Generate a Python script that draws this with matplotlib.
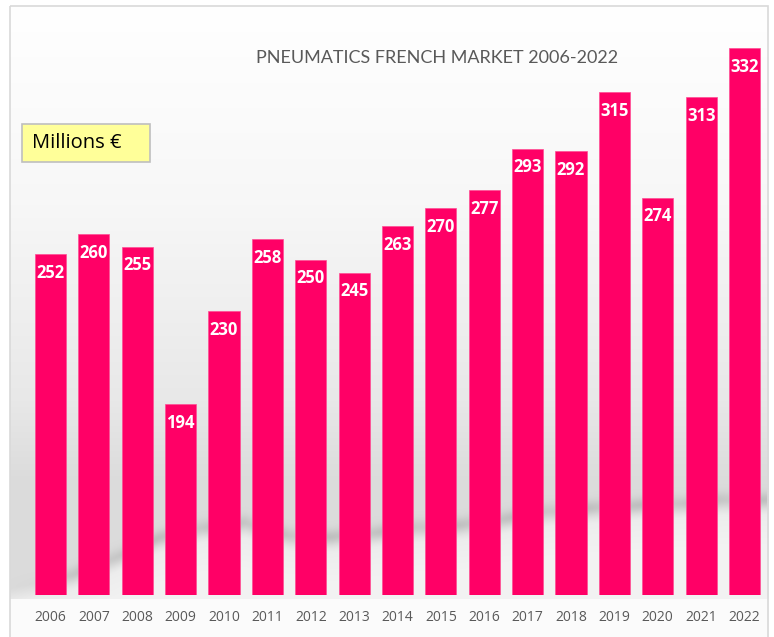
import numpy as np
import matplotlib
matplotlib.use('Agg')
from matplotlib import pyplot as plt
from matplotlib.patches import Rectangle

years = ['2006', '2007', '2008', '2009', '2010', '2011', '2012', '2013', '2014',
         '2015', '2016', '2017', '2018', '2019', '2020', '2021', '2022']
values = [252, 260, 255, 194, 230, 258, 250, 245, 263,
          270, 277, 293, 292, 315, 274, 313, 332]

W, H = 774, 637
fig = plt.figure(figsize=(W / 100, H / 100), dpi=100)

# background: grey gradient with a soft swoosh near the bottom
bg = fig.add_axes([0, 0, 1, 1])
bg.set_xlim(0, W)
bg.set_ylim(H, 0)
bg.axis('off')

xx, yy = np.meshgrid(np.arange(W), np.arange(H))
curve_x = [0, 72, 115, 158, 202, 245, 289, 332, 419, 462, 505, 549, 593, 636, 680, 723, 774]
curve_y = [590, 575, 557, 538, 527, 523, 536, 537, 527, 525, 518, 511, 508, 505, 503, 500, 500]
c = np.interp(xx, curve_x, curve_y)
d = yy - c
img = np.interp(yy, [6, 200, 400, 480, 640], [1.0, 0.97, 0.91, 0.86, 0.86])
low = np.interp(d, [0, 15, 45], [0.86, 0.93, 0.95])
img = np.where(d > 0, low, img)
# faint diagonal streaks inside the swoosh
streak = 0.5 + 0.5 * np.sin((xx + yy) / 9.0)
fade = np.interp(xx, [0, 45, 80], [0.0, 0.2, 1.0])
img = img - fade * (0.07 + 0.04 * streak) * np.exp(-(d / 8.0) ** 2)
img = np.where(yy > 598, 0.985, img)
img = np.where((xx < 10) | (xx > 768) | (yy < 6), 1.0, img)
bg.imshow(np.dstack([img] * 3), extent=(0, W, H, 0), aspect='auto', zorder=0)
bg.add_patch(Rectangle((10, 6), 758, 700, fill=False, edgecolor='#d9d9d9', lw=1.2, zorder=1))

# main bar chart
ax = fig.add_axes([14 / W, (H - 595) / H, (765 - 14) / W, (595 - 20) / H])
ax.patch.set_alpha(0)
x = np.arange(len(years))
ax.bar(x, values, width=0.715, color='#ff0066', edgecolor='#ff4d94', linewidth=0.5)
ax.set_ylim(120, 120 + 575 / 2.58)
ax.set_xlim(-(50.5 - 14) / 43.375, (765 - 50.5) / 43.375)

for xi, v in zip(x, values):
    ax.annotate(str(v), (xi, v), xytext=(0, -13.5), textcoords='offset points',
                ha='center', va='center', color='white', fontsize=12,
                fontweight='bold', family=['Open Sans', 'DejaVu Sans'])

ax.set_xticks(x)
ax.set_xticklabels(years, color='#595959', fontsize=10, family=['Open Sans', 'DejaVu Sans'])
ax.tick_params(axis='x', length=0, pad=11)
ax.set_yticks([])
for s in ax.spines.values():
    s.set_visible(False)

fig.text(437 / W, 1 - 58 / H, 'PNEUMATICS FRENCH MARKET 2006-2022', ha='center', va='center',
         color='#595959', fontsize=13, family=['Lato', 'DejaVu Sans'])

fig.text(32 / W, 1 - 143 / H, 'Millions €', ha='left', va='center', color='black',
         fontsize=14.5, family=['Open Sans', 'DejaVu Sans'])
bg.add_patch(Rectangle((22, 124), 128, 38, facecolor='#ffff99', edgecolor='#bfbfbf', lw=1.2, zorder=2))

fig.savefig('out.png', dpi=100)
